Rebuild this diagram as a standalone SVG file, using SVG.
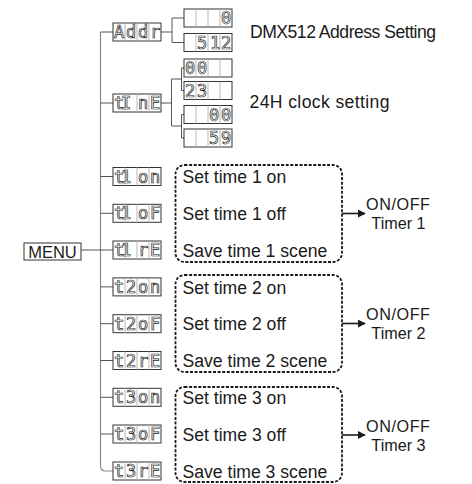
<svg xmlns="http://www.w3.org/2000/svg" width="472" height="484" viewBox="0 0 472 484">
<defs>
<style>
.disp{fill:#fff;stroke:#333;stroke-width:1}
.div{stroke:#b8b8b8;stroke-width:1}
.seg{font-family:"DejaVu Sans Mono",monospace;font-size:17px;fill:#fff;stroke:#222;stroke-width:0.7;text-anchor:middle}
.con{fill:none;stroke:#555;stroke-width:1}
.main{fill:none;stroke:#8a8a8a;stroke-width:1.2}
.lbl{font-family:"Liberation Sans",Arial,sans-serif;font-size:17.6px;fill:#1a1a1a}
.tm{font-family:"Liberation Sans",Arial,sans-serif;font-size:16.2px;fill:#1a1a1a;text-anchor:middle}
.ctr{text-anchor:middle}
.dash{fill:none;stroke:#1a1a1a;stroke-width:1.8;stroke-dasharray:3 1.6}
.arr{fill:none;stroke:#1a1a1a;stroke-width:1.6}
</style>
<marker id="ah" viewBox="0 0 10 10" refX="9" refY="5" markerWidth="5" markerHeight="5" orient="auto" markerUnits="strokeWidth">
<path d="M0,0 L10,5 L0,10 z" fill="#1a1a1a"/>
</marker>
<g id="cells"><line class="div" x1="12" y1="0" x2="12" y2="18"/><line class="div" x1="24" y1="0" x2="24" y2="18"/><line class="div" x1="36" y1="0" x2="36" y2="18"/></g>
</defs>
<rect width="472" height="484" fill="#fff"/>

<g id="connectors">
<path class="main" d="M100.5,32 V466 Q100.5,471 105.5,471 H113"/>
<path class="con" d="M100.5,32 H113 M100.5,103 H113 M100.5,176.5 H113 M100.5,213.3 H113 M81,250 H113 M100.5,286.9 H113 M100.5,323.7 H113 M100.5,360.5 H113 M100.5,397.3 H113 M100.5,434 H113"/>
<path class="con" d="M161,32 H172 M172,18 V42.5 M172,18 H184 M172,42.5 H184"/>
<path class="con" d="M161,103 H171.5 M171.5,79 V126 M171.5,79 H181.5 M181.5,68 V90.5 M181.5,68 H184 M181.5,90.5 H184 M171.5,126 H181.5 M181.5,114.5 V138 M181.5,114.5 H184 M181.5,138 H184"/>
<line class="arr" x1="342" y1="213.5" x2="365" y2="213.5" marker-end="url(#ah)"/>
<line class="arr" x1="342" y1="323.5" x2="365" y2="323.5" marker-end="url(#ah)"/>
<line class="arr" x1="342" y1="435" x2="365" y2="435" marker-end="url(#ah)"/>
</g>

<g id="menu">
<rect class="disp" x="24" y="243" width="57" height="17"/>
<text class="lbl ctr" x="52.5" y="257.5" style="font-size:16.5px">MENU</text>
</g>

<g id="addr" transform="translate(113,23)"><rect class="disp" width="48" height="18"/><use href="#cells"/><text class="seg" x="6 18 30 42" y="15">Addr</text></g>
<g id="addr-0" transform="translate(184,9)"><rect class="disp" width="48" height="18"/><use href="#cells"/><text class="seg" x="42" y="15">0</text></g>
<g id="addr-512" transform="translate(184,33.5)"><rect class="disp" width="48" height="18"/><use href="#cells"/><text class="seg" x="18 31 42" y="15">512</text></g>

<g id="time" transform="translate(113,94)"><rect class="disp" width="48" height="18"/><use href="#cells"/><text class="seg" x="6 13 30 42" y="15">tInE</text></g>
<g id="time-00a" transform="translate(184,59)"><rect class="disp" width="48" height="18"/><use href="#cells"/><text class="seg" x="6 18" y="15">00</text></g>
<g id="time-23" transform="translate(184,81.5)"><rect class="disp" width="48" height="18"/><use href="#cells"/><text class="seg" x="6 18" y="15">23</text></g>
<g id="time-00b" transform="translate(184,105.5)"><rect class="disp" width="48" height="18"/><use href="#cells"/><text class="seg" x="30 42" y="15">00</text></g>
<g id="time-59" transform="translate(184,129)"><rect class="disp" width="48" height="18"/><use href="#cells"/><text class="seg" x="30 42" y="15">59</text></g>

<g id="t1on" transform="translate(113,167.5)"><rect class="disp" width="48" height="18"/><use href="#cells"/><text class="seg" x="6 13 30 42" y="15">t1on</text></g>
<g id="t1oF" transform="translate(113,204.3)"><rect class="disp" width="48" height="18"/><use href="#cells"/><text class="seg" x="6 13 30 42" y="15">t1oF</text></g>
<g id="t1rE" transform="translate(113,241)"><rect class="disp" width="48" height="18"/><use href="#cells"/><text class="seg" x="6 13 30 42" y="15">t1rE</text></g>
<g id="t2on" transform="translate(113,277.9)"><rect class="disp" width="48" height="18"/><use href="#cells"/><text class="seg" x="6 18 30 42" y="15">t2on</text></g>
<g id="t2oF" transform="translate(113,314.7)"><rect class="disp" width="48" height="18"/><use href="#cells"/><text class="seg" x="6 18 30 42" y="15">t2oF</text></g>
<g id="t2rE" transform="translate(113,351.5)"><rect class="disp" width="48" height="18"/><use href="#cells"/><text class="seg" x="6 18 30 42" y="15">t2rE</text></g>
<g id="t3on" transform="translate(113,388.3)"><rect class="disp" width="48" height="18"/><use href="#cells"/><text class="seg" x="6 18 30 42" y="15">t3on</text></g>
<g id="t3oF" transform="translate(113,425)"><rect class="disp" width="48" height="18"/><use href="#cells"/><text class="seg" x="6 18 30 42" y="15">t3oF</text></g>
<g id="t3rE" transform="translate(113,462)"><rect class="disp" width="48" height="18"/><use href="#cells"/><text class="seg" x="6 18 30 42" y="15">t3rE</text></g>

<g id="label-dmx"><text class="lbl" x="250" y="38" textLength="186" lengthAdjust="spacing">DMX512 Address Setting</text></g>
<g id="label-24h"><text class="lbl" x="249.5" y="108" textLength="140" lengthAdjust="spacing">24H clock setting</text></g>

<g id="timer1-box">
<rect class="dash" x="175.5" y="165" width="166.5" height="97" rx="9"/>
<text class="lbl" x="182.5" y="183">Set time 1 on</text>
<text class="lbl" x="182.5" y="220">Set time 1 off</text>
<text class="lbl" x="182.5" y="256.5">Save time 1 scene</text>
</g>
<g id="timer2-box">
<rect class="dash" x="175.5" y="275" width="166.5" height="97" rx="9"/>
<text class="lbl" x="182.5" y="293.5">Set time 2 on</text>
<text class="lbl" x="182.5" y="330">Set time 2 off</text>
<text class="lbl" x="182.5" y="367">Save time 2 scene</text>
</g>
<g id="timer3-box">
<rect class="dash" x="175.5" y="387" width="166.5" height="95" rx="9"/>
<text class="lbl" x="182.5" y="404">Set time 3 on</text>
<text class="lbl" x="182.5" y="441">Set time 3 off</text>
<text class="lbl" x="182.5" y="477.5">Save time 3 scene</text>
</g>

<g id="timer1"><text class="tm" x="398" y="210" textLength="64" lengthAdjust="spacing">ON/OFF</text><text class="tm" x="398.5" y="228.5">Timer 1</text></g>
<g id="timer2"><text class="tm" x="398" y="320" textLength="64" lengthAdjust="spacing">ON/OFF</text><text class="tm" x="398.5" y="339">Timer 2</text></g>
<g id="timer3"><text class="tm" x="398" y="431.5" textLength="64" lengthAdjust="spacing">ON/OFF</text><text class="tm" x="398.5" y="450.5">Timer 3</text></g>
</svg>
